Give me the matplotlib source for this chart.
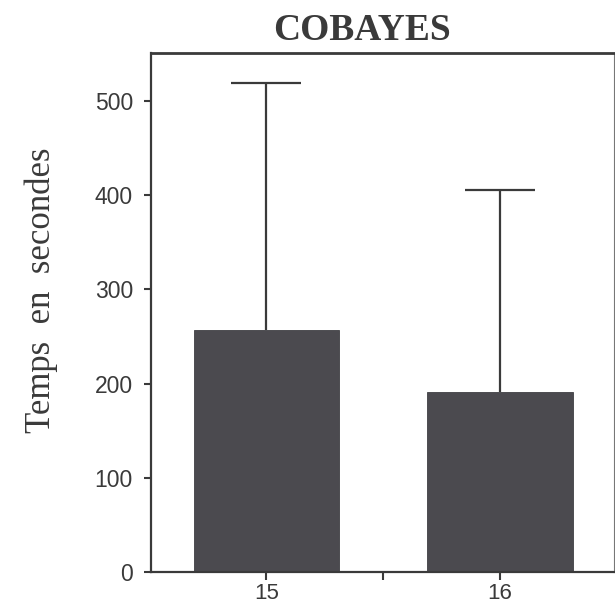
import matplotlib
matplotlib.use("Agg")
import matplotlib.pyplot as plt

categories = ["15", "16"]
means = [257, 191]
errors_up = [262, 215]
yticks = [0, 100, 200, 300, 400, 500]

fig = plt.figure(figsize=(6.15, 6.13), dpi=100)
ax = fig.add_axes([151/615, 1-572/613, (614-151)/615, (572-53)/613])

pos = [0, 1]
bar_color = "#4b4a4f"
line_color = "#3a3a3a"
ax.bar(pos, means, width=0.625, color=bar_color, edgecolor="#3f3f43", linewidth=0.6, zorder=2)
eb = ax.errorbar(pos, means, yerr=[[0, 0], errors_up], fmt="none", ecolor=line_color,
                 elinewidth=1.6, capsize=25, capthick=1.6, zorder=1)
# hide lower caps (only upward error bars)
eb[1][0].set_visible(False)

ax.set_xlim(-0.495, 1.49)
ax.set_ylim(0, 551)
ax.set_yticks(yticks)
ax.set_yticklabels([str(v) for v in yticks], family="Liberation Sans", fontsize=16.5, color="#3a3a3a")
ax.set_xticks([0, 0.5, 1])
ax.set_xticklabels(["15", "", "16"], family="Liberation Sans", fontsize=16, color="#3a3a3a")
ax.tick_params(axis="y", direction="out", length=5, width=1.5, color=line_color, pad=8)
ax.tick_params(axis="x", direction="out", length=6, width=1.5, color=line_color, pad=2)

for side in ["left", "bottom"]:
    ax.spines[side].set_linewidth(1.6)
    ax.spines[side].set_color(line_color)
ax.spines["top"].set_linewidth(2.0)
ax.spines["top"].set_color(line_color)
ax.spines["right"].set_linewidth(0.8)
ax.spines["right"].set_color("#777777")

fig.text(362/615, 1-30/613, "COBAYES", family="Liberation Serif", fontweight="bold",
         fontsize=27, color="#3a3a3a", ha="center", va="center")
fig.text(41/615, 1-290/613, "Temps  en  secondes", family="Liberation Serif",
         fontsize=25, color="#3a3a3a", ha="center", va="center", rotation=90)

fig.savefig("out.png", dpi=100)
